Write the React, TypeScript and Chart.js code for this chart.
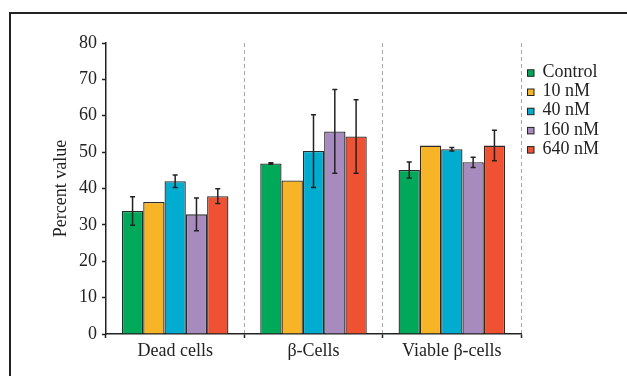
import React, { useEffect, useRef } from "react";
import { Chart, registerables } from "chart.js";

Chart.register(...registerables);

const categories = ["Dead cells", "β-Cells", "Viable β-cells"];
const seriesLabels = ["Control", "10 nM", "40 nM", "160 nM", "640 nM"];
const controlValues = [33.8, 46.9, 45.1];
const nm10Values = [36.3, 42.2, 51.8];
const nm40Values = [42.0, 50.3, 50.8];
const nm160Values = [32.9, 55.7, 47.2];
const nm640Values = [37.9, 54.3, 51.8];
const controlErrors = [3.9, 0.2, 2.2];
const nm10Errors = [0, 0, 0];
const nm40Errors = [1.7, 10.0, 0.5];
const nm160Errors = [4.5, 11.5, 1.4];
const nm640Errors = [2.0, 10.1, 4.2];
const yTicks = [0, 10, 20, 30, 40, 50, 60, 70, 80];

const seriesValues = [controlValues, nm10Values, nm40Values, nm160Values, nm640Values];
const seriesErrors = [controlErrors, nm10Errors, nm40Errors, nm160Errors, nm640Errors];
const colors = ["#00a859", "#f7b427", "#00acd0", "#a78bbe", "#ee5232"];

const FONT = '"Liberation Serif", "DejaVu Serif", serif';
const FS = 18;
const INK = "#222222";

const framePlugin = {
  id: "frame",
  beforeDraw(chart: any) {
    const ctx = chart.ctx;
    ctx.save();
    ctx.fillStyle = "#ffffff";
    ctx.fillRect(0, 0, chart.width, chart.height);
    ctx.strokeStyle = INK;
    ctx.lineWidth = 2;
    ctx.strokeRect(10, 13, 800, 600);
    ctx.restore();
  },
};

const errorBarPlugin = {
  id: "errorBars",
  afterDatasetsDraw(chart: any) {
    const ctx = chart.ctx;
    const y = chart.scales.y;
    ctx.save();
    ctx.strokeStyle = INK;
    ctx.lineWidth = 1.5;
    chart.data.datasets.forEach((ds: any, i: number) => {
      const meta = chart.getDatasetMeta(i);
      const errs = seriesErrors[i];
      meta.data.forEach((bar: any, j: number) => {
        const e = errs[j];
        if (!e) return;
        const v = ds.data[j];
        const top = y.getPixelForValue(v + e);
        const bot = y.getPixelForValue(v - e);
        const x = bar.x;
        ctx.beginPath();
        ctx.moveTo(x, top);
        ctx.lineTo(x, bot);
        ctx.moveTo(x - 2.5, top);
        ctx.lineTo(x + 2.5, top);
        ctx.moveTo(x - 2.5, bot);
        ctx.lineTo(x + 2.5, bot);
        ctx.stroke();
      });
    });
    ctx.restore();
  },
};

const legendPlugin = {
  id: "customLegend",
  afterDraw(chart: any) {
    const ctx = chart.ctx;
    ctx.save();
    ctx.font = `${FS}px ${FONT}`;
    ctx.textAlign = "left";
    ctx.textBaseline = "alphabetic";
    chart.data.datasets.forEach((ds: any, i: number) => {
      const cy = 73.3 + i * 19.2;
      ctx.fillStyle = ds.backgroundColor;
      ctx.fillRect(527.5, cy - 3.5, 6.5, 6.5);
      ctx.strokeStyle = INK;
      ctx.lineWidth = 1;
      ctx.strokeRect(527.5, cy - 3.5, 6.5, 6.5);
      ctx.fillStyle = INK;
      ctx.fillText(ds.label, 542.5, cy + 3.6);
    });
    ctx.restore();
  },
};

export default function App() {
  const ref = useRef<HTMLCanvasElement | null>(null);
  useEffect(() => {
    if (!ref.current) return;
    const chart = new Chart(ref.current, {
      type: "bar",
      data: {
        labels: categories,
        datasets: seriesLabels.map((label, i) => ({
          label,
          data: seriesValues[i],
          backgroundColor: colors[i],
          borderColor: "#2a2a2a",
          borderWidth: 1.3,
          borderSkipped: "bottom" as const,
          barPercentage: 1,
          categoryPercentage: 0.77,
        })),
      },
      options: {
        responsive: false,
        animation: false,
        devicePixelRatio: 1,
        layout: { padding: { left: 46, top: 43, right: 106, bottom: 0 } },
        plugins: {
          legend: { display: false },
          tooltip: { enabled: false },
        },
        scales: {
          x: {
            afterFit: (s: any) => {
              s.height = 42;
            },
            grid: {
              display: true,
              offset: true,
              drawOnChartArea: true,
              color: "#a8a8a8",
              lineWidth: 1,
              drawTicks: true,
              tickLength: 4,
              tickColor: INK,
              tickWidth: 1.5,
              tickBorderDash: [],
            },
            border: { display: true, color: INK, width: 1.5, dash: [4, 3] },
            ticks: {
              color: INK,
              padding: 2,
              font: { family: FONT, size: FS },
            },
          },
          y: {
            min: 0,
            max: 80,
            afterFit: (s: any) => {
              s.width = 60;
            },
            afterBuildTicks: (s: any) => {
              s.ticks = yTicks.map((v) => ({ value: v }));
            },
            grid: {
              display: true,
              drawOnChartArea: false,
              drawTicks: true,
              tickLength: 4,
              tickColor: INK,
              tickWidth: 1.5,
            },
            border: { display: true, color: INK, width: 1.5 },
            ticks: {
              color: INK,
              padding: 5,
              font: { family: FONT, size: FS },
            },
            title: {
              display: true,
              text: "Percent value",
              color: INK,
              font: { family: FONT, size: FS },
              padding: { top: 4, bottom: 4 },
            },
          },
        },
      },
      plugins: [framePlugin, errorBarPlugin, legendPlugin],
    });
    return () => chart.destroy();
  }, []);
  return (
    <div style={{ position: "fixed", left: 0, top: 0, width: 627, height: 376, background: "#fff" }}>
      <canvas ref={ref} width={627} height={376} style={{ display: "block" }} />
    </div>
  );
}
